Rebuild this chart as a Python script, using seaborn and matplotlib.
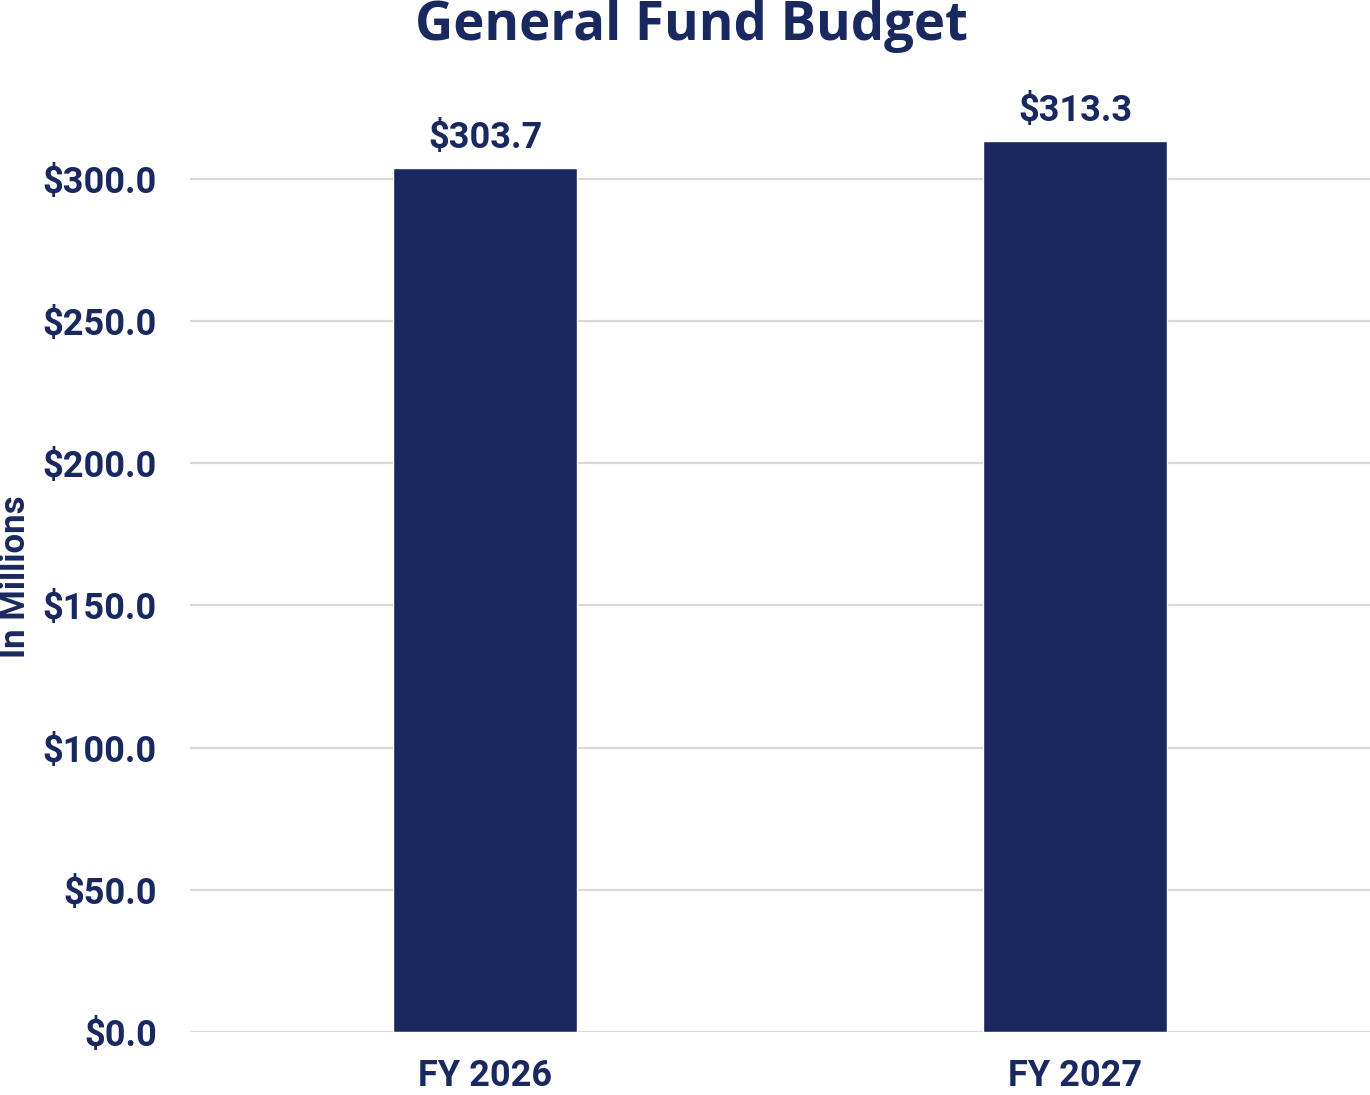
import matplotlib
matplotlib.use("Agg")
import matplotlib.pyplot as plt
import seaborn as sns
import pandas as pd

# Budget data (in millions)
fiscal_years = ["FY 2026", "FY 2027"]
budget_millions = [303.7, 313.3]
tick_values = [0, 50, 100, 150, 200, 250, 300]

navy = "#1A2860"
grid_gray = "#D9D9D9"

sns.set_theme(style="white")
plt.rcParams["font.family"] = ["Roboto", "DejaVu Sans"]

df = pd.DataFrame({"year": fiscal_years, "budget": budget_millions})

fig = plt.figure(figsize=(13.7, 10.95), dpi=100)
ax = fig.add_axes([0.1387, 0.0575, 0.8613, 0.8311])

sns.barplot(data=df, x="year", y="budget", color=navy, width=0.312,
            saturation=1, ax=ax, zorder=3)

ax.set_ylim(0, 320)
ax.set_xlim(-0.5, 1.5)
ax.set_yticks(tick_values)
ax.set_yticklabels([f"${v:,.1f}" for v in tick_values])
ax.yaxis.grid(True, color=grid_gray, linewidth=1.6, zorder=0)
ax.set_axisbelow(True)
for side in ["top", "right", "left", "bottom"]:
    ax.spines[side].set_visible(False)

ax.tick_params(axis="y", length=0, pad=24, labelsize=26, labelcolor=navy)
ax.tick_params(axis="x", length=0, pad=19, labelsize=26, labelcolor=navy)
for lbl in ax.get_yticklabels() + ax.get_xticklabels():
    lbl.set_fontweight("bold")

ax.set_xlabel("")
ax.set_ylabel("In Millions", fontsize=25, fontweight="bold", color=navy)
ax.yaxis.set_label_coords(-0.134, 0.5)

for container in ax.containers:
    ax.bar_label(container, labels=[f"${v:,.1f}" for v in budget_millions],
                 padding=9, fontsize=26, fontweight="bold", color=navy)

fig.text(0.505, 0.976, "General Fund Budget", ha="center", va="center",
         fontsize=38, fontweight="bold", color=navy,
         family=["Open Sans", "DejaVu Sans"])

fig.savefig("out.png", dpi=100, facecolor="white")
